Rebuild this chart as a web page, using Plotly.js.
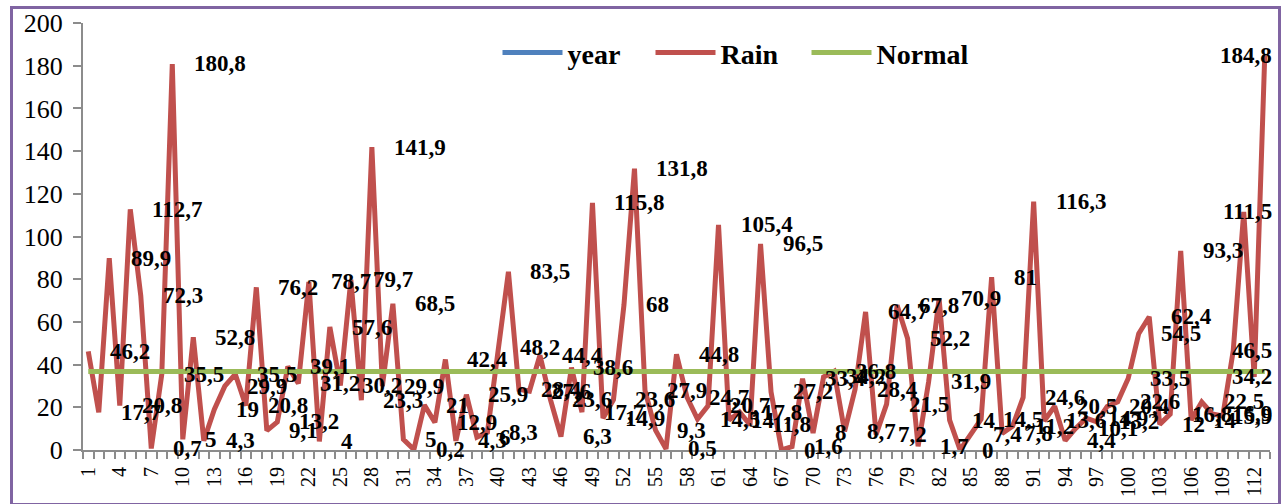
<!DOCTYPE html>
<html><head><meta charset="utf-8">
<script src="https://cdn.plot.ly/plotly-3.0.1.min.js"></script>
<style>
html,body{margin:0;padding:0;background:#fff;}
#wrap{position:relative;width:1281px;height:504px;overflow:hidden;}
#chart{width:1281px;height:504px;}
#frame{position:absolute;left:10px;top:6px;width:1271px;height:500px;box-sizing:border-box;border:3px solid #8064A2;pointer-events:none;}
</style></head><body>
<div id="wrap"><div id="chart"></div><div id="frame"></div></div>
<script>
// x categories: period index 1..113
const periods = Array.from({length: 113}, (_, i) => i + 1);
// tick labels shown on the x axis
const xTickLabels = [1,4,7,10,13,16,19,22,25,28,31,34,37,40,43,46,49,52,55,58,61,64,67,70,73,76,79,82,85,88,91,94,97,100,103,106,109,112];
// Rain series (mm)
const rain = [
  46.2, 17.7, 89.9, 20.8, 112.7, 72.3, 0.7, 35.5, 180.8, 5,
  52.8, 4.3, 19, 29.9, 35.5, 20.8, 76.2, 9.1, 13.2, 39.1,
  31.2, 78.7, 4, 57.6, 30.2, 79.7, 23.3, 141.9, 29.9, 68.5,
  5, 0.2, 21, 12.9, 42.4, 4.3, 25.9, 6, 8.3, 48.2,
  83.5, 28.4, 27.6, 44.4, 23.6, 6.3, 38.6, 17.7, 115.8, 14.9,
  23.6, 68, 131.8, 27.9, 9.3, 0.5, 44.8, 24.7, 14.5, 20.7,
  105.4, 14, 17.8, 11.8, 96.5, 27.2, 0, 1.6, 33.4, 8,
  34.2, 36.8, 8.7, 28.4, 64.7, 7.2, 21.5, 67.8, 52.2, 1.7,
  31.9, 70.9, 14, 0, 7.4, 14.5, 81, 7.8, 11.2, 24.6,
  116.3, 13.6, 20.5, 4.4, 10.1, 14.9, 13.2, 20.4, 22.6, 33.5,
  54.5, 62.4, 12, 16.8, 93.3, 14, 22.5, 16.9, 15.9, 46.5,
  111.5, 34.2, 184.8
];
// Normal (long-term average) level
const normalValue = 36.8;
const normal = periods.map(() => normalValue);
// year series: shown in the legend only (its values lie off the 0-200 scale)
const yearX = [null];
const yearY = [null];

const FONT = 'Liberation Serif, DejaVu Serif, serif';
const fmt = v => String(v).replace('.', ',');
// labels that Excel pushed inside the right edge of the chart
const clampedRight = [108,109,110,111,112,113];

const annotations = rain.map((v, i) => {
  const a = {
    x: periods[i], y: v, xref: 'x', yref: 'y',
    text: fmt(v), showarrow: false,
    xanchor: 'left', yanchor: 'middle', xshift: 20,
    font: {family: FONT, size: 23, weight: 'bold', color: '#000'}
  };
  if (clampedRight.includes(periods[i])) {
    a.xref = 'paper'; a.x = 1.003; a.xanchor = 'right'; a.xshift = 0;
  }
  return a;
});

const traces = [
  {name: 'year', x: yearX, y: yearY, type: 'scatter', mode: 'lines',
   line: {color: '#4F81BD', width: 5}, legendwidth: 78},
  {name: 'Rain', x: periods, y: rain, type: 'scatter', mode: 'lines',
   line: {color: '#C0504D', width: 5, shape: 'linear'}, legendwidth: 81},
  {name: 'Normal', x: periods, y: normal, type: 'scatter', mode: 'lines',
   line: {color: '#9BBB59', width: 5}, legendwidth: 110}
];

const layout = {
  width: 1281, height: 504,
  margin: {l: 83, r: 11, t: 23, b: 54, pad: 0},
  paper_bgcolor: '#fff', plot_bgcolor: '#fff',
  showlegend: true,
  legend: {orientation: 'h', x: 0.3492, y: 0.93, xanchor: 'left', yanchor: 'middle',
    font: {family: FONT, size: 28, weight: 'bold', color: '#000'},
    bgcolor: 'rgba(0,0,0,0)', itemwidth: 60, traceorder: 'normal'},
  xaxis: {
    range: [0.5, 113.5], tickmode: 'array', tickvals: xTickLabels,
    ticktext: xTickLabels.map(String), tickangle: -90,
    ticks: 'outside', ticklen: 7, tickcolor: 'rgba(0,0,0,0)',
    showline: true, linecolor: '#8C8C8C', linewidth: 2,
    showgrid: false, zeroline: false,
    tickfont: {family: FONT, size: 20, color: '#000'},
    minor: {tickmode: 'linear', tick0: 0.5, dtick: 1, ticks: 'outside', ticklen: 7,
      tickcolor: '#8C8C8C', tickwidth: 2, showgrid: false}
  },
  yaxis: {
    range: [0, 200], tickmode: 'linear', tick0: 0, dtick: 20,
    ticks: 'outside', ticklen: 8, tickcolor: '#8C8C8C', tickwidth: 2,
    showline: true, linecolor: '#8C8C8C', linewidth: 2,
    showgrid: false, zeroline: false, ticklabelstandoff: 5,
    tickfont: {family: FONT, size: 26, color: '#000'}
  },
  annotations: annotations
};

Plotly.newPlot('chart', traces, layout, {displayModeBar: false, staticPlot: true});
</script>
</body></html>
